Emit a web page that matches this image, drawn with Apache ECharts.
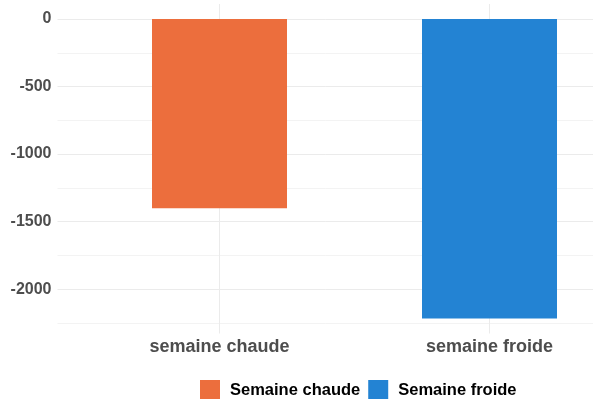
<!DOCTYPE html>
<html>
<head>
<meta charset="utf-8">
<script src="https://cdn.jsdelivr.net/npm/echarts@6/dist/echarts.min.js"></script>
<style>
html,body{margin:0;padding:0;background:#fff;}
#chart{width:593px;height:399px;}
</style>
</head>
<body>
<div id="chart"></div>
<script>
const categories = ['semaine chaude', 'semaine froide'];
const legendNames = ['Semaine chaude', 'Semaine froide'];
const values = [-1400, -2217];
const yLabelValues = [-2000, -1500, -1000, -500, 0];
const yGridValues = [-2250, -2000, -1750, -1500, -1250, -1000, -750, -500, -250, 0];

const colors = ['#EC6E3D', '#2383D3'];
const positions = categories.map((c, i) => i + 1);

const chart = echarts.init(document.getElementById('chart'), null, {renderer: 'canvas'});
chart.setOption({
  animation: false,
  backgroundColor: '#ffffff',
  grid: {left: 57.5, width: 594, top: 4, height: 329.5, containLabel: false, outerBoundsMode: 'none'},
  xAxis: {
    type: 'value',
    min: 0.4,
    max: 2.6,
    axisLine: {show: false},
    axisTick: {show: false, customValues: positions},
    splitLine: {show: true, lineStyle: {color: '#ebebeb', width: 1}},
    axisLabel: {
      customValues: positions,
      margin: 5,
      fontFamily: 'Liberation Sans, Arial, sans-serif',
      fontWeight: 'bold',
      fontSize: 18,
      color: '#4d4d4d',
      formatter: v => categories[Math.round(v) - 1] || ''
    }
  },
  yAxis: {
    type: 'value',
    min: -2328,
    max: 111,
    axisLine: {show: false},
    axisTick: {show: false, customValues: yGridValues},
    splitLine: {show: true, lineStyle: {color: ['#f3f3f3', '#ebebeb'], width: 1}},
    axisLabel: {
      customValues: yLabelValues,
      margin: 6,
      fontFamily: 'Liberation Sans, Arial, sans-serif',
      fontWeight: 'bold',
      fontSize: 16,
      color: '#4d4d4d',
      formatter: v => String(v)
    }
  },
  legend: {
    left: 200,
    top: 380,
    padding: 0,
    itemWidth: 20,
    itemHeight: 20,
    itemGap: 8,
    icon: 'rect',
    textStyle: {
      fontFamily: 'Liberation Sans, Arial, sans-serif',
      fontWeight: 'bold',
      fontSize: 16.5,
      color: '#000000',
      padding: [2, 0, 0, 5]
    },
    data: legendNames
  },
  series: legendNames.map((n, i) => ({
    name: n,
    type: 'bar',
    barWidth: 135,
    barGap: '-100%',
    data: [[positions[i], values[i]]],
    itemStyle: {color: colors[i]}
  }))
});
</script>
</body>
</html>
